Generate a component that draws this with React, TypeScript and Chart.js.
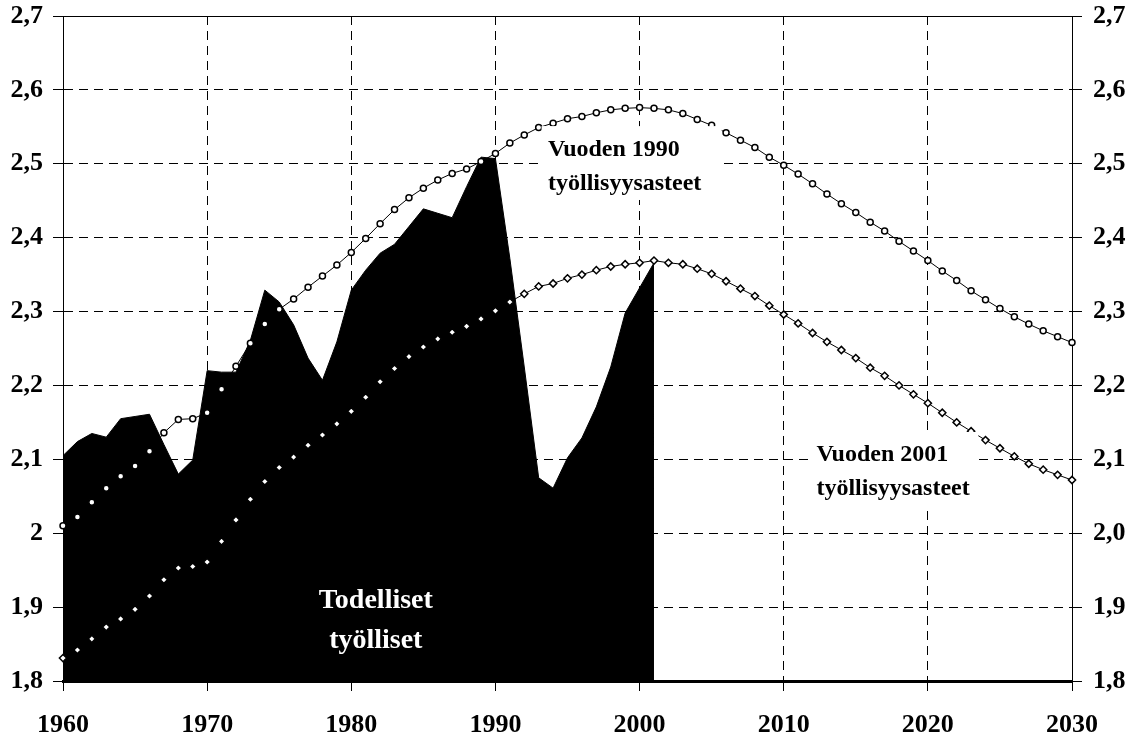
import React, { useEffect, useRef } from 'react';
import { Chart, registerables } from 'chart.js';

Chart.register(...registerables);

// Years (x categories)
const years = [
  1960, 1961, 1962, 1963, 1964, 1965, 1966, 1967, 1968, 1969,
  1970, 1971, 1972, 1973, 1974, 1975, 1976, 1977, 1978, 1979,
  1980, 1981, 1982, 1983, 1984, 1985, 1986, 1987, 1988, 1989,
  1990, 1991, 1992, 1993, 1994, 1995, 1996, 1997, 1998, 1999,
  2000, 2001, 2002, 2003, 2004, 2005, 2006, 2007, 2008, 2009,
  2010, 2011, 2012, 2013, 2014, 2015, 2016, 2017, 2018, 2019,
  2020, 2021, 2022, 2023, 2024, 2025, 2026, 2027, 2028, 2029,
  2030,
];

// Todelliset työlliset (1960–2001), millions
const actualEmployed = [
  2.105, 2.124, 2.135, 2.130, 2.155, 2.158, 2.161, 2.120, 2.080, 2.099,
  2.220, 2.218, 2.218, 2.261, 2.329, 2.313, 2.282, 2.237, 2.207, 2.259,
  2.329, 2.356, 2.379, 2.391, 2.415, 2.439, 2.433, 2.427, 2.469, 2.509,
  2.507, 2.372, 2.225, 2.075, 2.061, 2.102, 2.129, 2.171, 2.225, 2.298,
  2.332, 2.366,
];

// Vuoden 1990 työllisyysasteet (1960–2030)
const rates1990 = [
  2.010, 2.022, 2.042, 2.061, 2.077, 2.091, 2.111, 2.136, 2.154, 2.155,
  2.163, 2.195, 2.226, 2.257, 2.283, 2.303, 2.317, 2.333, 2.348, 2.363,
  2.380, 2.399, 2.419, 2.438, 2.454, 2.467, 2.478, 2.487, 2.493, 2.503,
  2.514, 2.528, 2.539, 2.549, 2.555, 2.561, 2.564, 2.569, 2.573, 2.575,
  2.576, 2.575, 2.573, 2.568, 2.560, 2.552, 2.542, 2.532, 2.522, 2.509,
  2.498, 2.486, 2.473, 2.459, 2.446, 2.434, 2.421, 2.409, 2.395, 2.382,
  2.369, 2.355, 2.342, 2.328, 2.316, 2.304, 2.293, 2.283, 2.274, 2.266,
  2.258,
];

// Vuoden 2001 työllisyysasteet (1960–2030)
const rates2001 = [
  1.831, 1.842, 1.857, 1.873, 1.884, 1.897, 1.915, 1.937, 1.953, 1.955,
  1.961, 1.989, 2.018, 2.046, 2.070, 2.089, 2.103, 2.119, 2.133, 2.148,
  2.165, 2.184, 2.205, 2.223, 2.239, 2.252, 2.263, 2.272, 2.280, 2.290,
  2.301, 2.313, 2.324, 2.334, 2.338, 2.345, 2.350, 2.356, 2.361, 2.364,
  2.366, 2.369, 2.366, 2.364, 2.358, 2.351, 2.341, 2.331, 2.321, 2.308,
  2.296, 2.284, 2.271, 2.259, 2.248, 2.237, 2.224, 2.213, 2.200, 2.188,
  2.176, 2.163, 2.150, 2.138, 2.126, 2.115, 2.104, 2.094, 2.086, 2.079,
  2.072,
];

const xTickLabels = ['1960', '1970', '1980', '1990', '2000', '2010', '2020', '2030'];
const leftTickLabels = ['1,8', '1,9', '2', '2,1', '2,2', '2,3', '2,4', '2,5', '2,6', '2,7'];
const rightTickLabels = ['1,8', '1,9', '2,0', '2,1', '2,2', '2,3', '2,4', '2,5', '2,6', '2,7'];

const label1990 = ['Vuoden 1990', 'työllisyysasteet'];
const label2001 = ['Vuoden 2001', 'työllisyysasteet'];
const labelActual = ['Todelliset', 'työlliset'];

const FAMILY = '"Liberation Serif", "Times New Roman", serif';
const Y_MIN = 1.8;
const Y_MAX = 2.7;

const annotationPlugin = {
  id: 'annotations',
  afterDatasetsDraw(chart: any) {
    const { ctx, chartArea, scales } = chart;
    const xs = scales.x;
    const ys = scales.y;
    const px = (v: number) => xs.getPixelForValue(v);
    const py = (v: number) => ys.getPixelForValue(v);
    ctx.save();

    // white boxes behind the two rate labels
    ctx.fillStyle = '#ffffff';
    ctx.fillRect(px(1993.2), py(2.551), px(2005.7) - px(1993.2), py(2.451) - py(2.551));
    ctx.fillRect(px(2012.0), py(2.137), px(2023.5) - px(2012.0), py(2.035) - py(2.137));

    ctx.fillStyle = '#000000';
    ctx.textAlign = 'left';
    ctx.textBaseline = 'alphabetic';
    ctx.font = `bold 24px ${FAMILY}`;
    ctx.fillText(label1990[0], px(1993.65), py(2.510));
    ctx.fillText(label1990[1], px(1993.65), py(2.464));
    ctx.fillText(label2001[0], px(2012.27), py(2.098));
    ctx.fillText(label2001[1], px(2012.27), py(2.052));

    ctx.fillStyle = '#ffffff';
    ctx.textAlign = 'center';
    ctx.font = `bold 28px ${FAMILY}`;
    ctx.fillText(labelActual[0], px(1981.7), py(1.899));
    ctx.fillText(labelActual[1], px(1981.7), py(1.845));

    // solid top frame line
    ctx.strokeStyle = '#000000';
    ctx.lineWidth = 1;
    ctx.beginPath();
    ctx.moveTo(chartArea.left, Math.round(chartArea.top) + 0.5);
    ctx.lineTo(chartArea.right, Math.round(chartArea.top) + 0.5);
    ctx.stroke();
    ctx.restore();
  },
};

export default function App() {
  const canvasRef = useRef<HTMLCanvasElement | null>(null);

  useEffect(() => {
    const canvas = canvasRef.current;
    if (!canvas) return;

    const actualData = actualEmployed.map((v, i) => ({ x: years[i], y: v }));
    const data1990 = rates1990.map((v, i) => ({ x: years[i], y: v }));
    const data2001 = rates2001.map((v, i) => ({ x: years[i], y: v }));

    const tickFont = { family: FAMILY, size: 26, weight: 'bold' as const };

    const chart = new Chart(canvas, {
      type: 'line',
      data: {
        datasets: [
          {
            label: 'Vuoden 1990 työllisyysasteet',
            data: data1990,
            borderColor: '#000',
            borderWidth: 1,
            pointStyle: 'circle',
            pointRadius: 3,
            pointBorderWidth: 1.5,
            pointBackgroundColor: '#fff',
            pointBorderColor: '#000',
            tension: 0,
            fill: false,
            clip: false as any,
            order: 1,
          },
          {
            label: 'Vuoden 2001 työllisyysasteet',
            data: data2001,
            borderColor: '#000',
            borderWidth: 1,
            pointStyle: 'rectRot',
            pointRadius: 3.6,
            pointBorderWidth: 1.5,
            pointBackgroundColor: '#fff',
            pointBorderColor: '#000',
            tension: 0,
            fill: false,
            clip: false as any,
            order: 2,
          },
          {
            label: 'Todelliset työlliset',
            data: actualData,
            borderColor: '#000',
            borderWidth: 1,
            backgroundColor: '#000',
            pointRadius: 0,
            tension: 0,
            fill: 'start',
            order: 3,
          },
        ],
      },
      options: {
        responsive: false,
        animation: false,
        layout: { padding: { top: 16, left: 0, right: 0, bottom: 0 } },
        plugins: {
          legend: { display: false },
          tooltip: { enabled: false },
        },
        scales: {
          x: {
            type: 'linear',
            min: 1960,
            max: 2030,
            afterFit: (s: any) => { s.height = 57; s.paddingLeft = 0; s.paddingRight = 0; },
            ticks: {
              stepSize: 10,
              color: '#000',
              font: tickFont,
              padding: 19,
              maxRotation: 0,
              autoSkip: false,
              callback: (v: any) => xTickLabels[Math.round((Number(v) - 1960) / 10)] ?? '',
            },
            grid: { color: '#000', lineWidth: 1, tickLength: 10, tickColor: '#000', tickWidth: 1 },
            border: { display: true, color: '#000', width: 3, dash: [9, 6] },
          },
          y: {
            type: 'linear',
            position: 'left',
            min: Y_MIN,
            max: Y_MAX,
            afterFit: (s: any) => { s.width = 63; s.paddingTop = 0; s.paddingBottom = 0; },
            ticks: {
              stepSize: 0.1,
              color: '#000',
              font: tickFont,
              padding: 10,
              callback: (v: any) => leftTickLabels[Math.round((Number(v) - Y_MIN) * 10)] ?? '',
            },
            grid: { color: '#000', lineWidth: 1, tickLength: 10, tickColor: '#000', tickWidth: 1 },
            border: { display: true, color: '#000', width: 1, dash: [9, 6] },
          },
          y2: {
            type: 'linear',
            position: 'right',
            display: true,
            min: Y_MIN,
            max: Y_MAX,
            afterFit: (s: any) => { s.width = 61; s.paddingTop = 0; s.paddingBottom = 0; },
            ticks: {
              stepSize: 0.1,
              color: '#000',
              font: tickFont,
              padding: 11,
              callback: (v: any) => rightTickLabels[Math.round((Number(v) - Y_MIN) * 10)] ?? '',
            },
            grid: { drawOnChartArea: false, color: '#000', lineWidth: 1, tickLength: 10, tickColor: '#000', tickWidth: 1 },
            border: { display: true, color: '#000', width: 1 },
          },
        },
      } as any,
      plugins: [annotationPlugin],
    });

    return () => chart.destroy();
  }, []);

  return (
    <div style={{ position: 'absolute', left: 0, top: 0, width: 1133, height: 738, background: '#fff' }}>
      <canvas ref={canvasRef} width={1133} height={738} style={{ display: 'block' }} />
    </div>
  );
}
